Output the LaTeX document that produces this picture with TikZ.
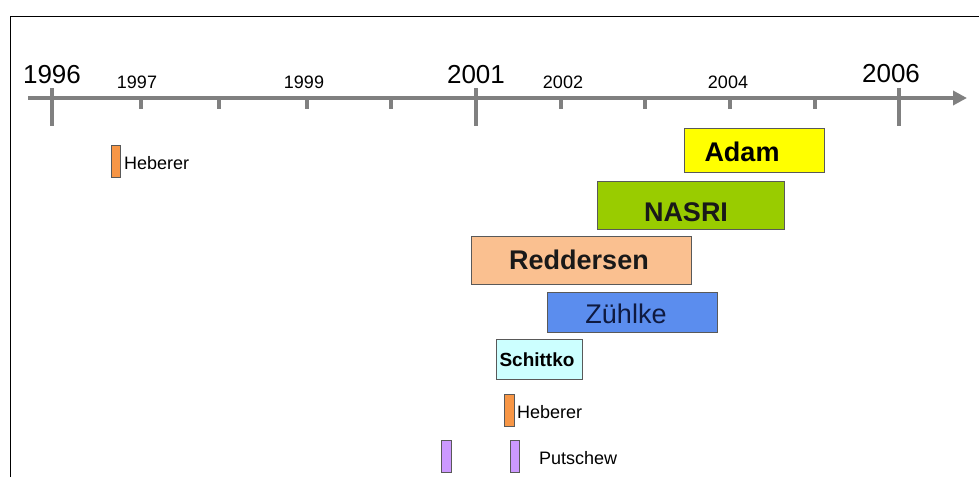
\documentclass[tikz,border=0pt]{standalone}
\usepackage{fontspec}
\setmainfont{Liberation Sans}
\usetikzlibrary{arrows.meta}
\definecolor{axisgray}{HTML}{808080}
\definecolor{cyellow}{HTML}{FFFF00}
\definecolor{cgreen}{HTML}{99CC00}
\definecolor{cpeach}{HTML}{FAC090}
\definecolor{cblue}{HTML}{5B8DEE}
\definecolor{ccyan}{HTML}{CCFFFF}
\definecolor{corange}{HTML}{F79646}
\definecolor{clav}{HTML}{CC99FF}
\definecolor{cnavy}{HTML}{0F1A40}
\begin{document}
\begin{tikzpicture}[x=1pt,y=-1pt,
  bar/.style={draw=black!65,line width=1pt,inner sep=0pt,outer sep=0pt},
  bigyear/.style={font=\fontsize{26}{26}\selectfont,anchor=base,inner sep=0pt},
  smallyear/.style={font=\fontsize{18}{18}\selectfont,anchor=base,inner sep=0pt},
  boxtext/.style={font=\fontsize{27}{27}\selectfont\bfseries,anchor=base,inner sep=0pt},
  lab/.style={font=\fontsize{18}{18}\selectfont,anchor=base west,inner sep=0pt},
  axisline/.style={draw=axisgray,line width=4pt},
]
\useasboundingbox (0,0) rectangle (979,477);
% frame (top and left)
\coordinate (fbl) at (10,477);
\coordinate (ftl) at (10,16);
\coordinate (ftr) at (979,16);
\draw[line width=1pt] (fbl) -- (ftl) -- (ftr);

% axis
\coordinate (axL) at (28,98);
\coordinate (axR) at (967,98);
\draw[axisline,-{Triangle[length=14pt,width=14pt]}] (axL) -- (axR);
\foreach \x in {52,476,899}{
  \draw[axisline] (\x,88) -- (\x,126);
}
\foreach \x in {141,219,307,391,561,645,730,815}{
  \draw[axisline] (\x,96) -- (\x,109);
}

% year labels
\node[bigyear] (y1996) at (52,83) {1996};
\node[bigyear] (y2001) at (476,83) {2001};
\node[bigyear] (y2006) at (891,82) {2006};
\node[smallyear] (y1997) at (137,88) {1997};
\node[smallyear] (y1999) at (304,88) {1999};
\node[smallyear] (y2002) at (563,88) {2002};
\node[smallyear] (y2004) at (728,88) {2004};

% boxes
\node[bar,fill=cyellow,minimum width=140pt,minimum height=44pt] (adam) at (754,150) {};
\node[boxtext] (adamt) at (742,161) {Adam};
\node[bar,fill=cgreen,minimum width=187pt,minimum height=48pt] (nasri) at (690.5,205) {};
\node[boxtext,text=black!90] (nasrit) at (686,221) {NASRI};
\node[bar,fill=cpeach,minimum width=220pt,minimum height=48pt] (redd) at (581,260) {};
\node[boxtext,text=black!90] (reddt) at (579,269) {Reddersen};
\node[bar,fill=cblue,minimum width=170pt,minimum height=40pt] (zuehl) at (632,312) {};
\node[boxtext,font=\fontsize{27}{27}\selectfont,text=cnavy] (zuehlt) at (626,323) {Zühlke};
\node[bar,fill=ccyan,minimum width=86pt,minimum height=40pt] (schit) at (539,359) {};
\node[boxtext,font=\fontsize{19}{19}\selectfont\bfseries] (schitt) at (537,366) {Schittko};

% small bars
\node[bar,fill=corange,minimum width=9pt,minimum height=32pt] (heb1) at (115.5,161) {};
\node[lab] (heb1t) at (124,169) {Heberer};
\node[bar,fill=corange,minimum width=10pt,minimum height=32pt] (heb2) at (509,410) {};
\node[lab] (heb2t) at (517,418) {Heberer};
\node[bar,fill=clav,minimum width=10pt,minimum height=32pt] (put1) at (446,456) {};
\node[bar,fill=clav,minimum width=9pt,minimum height=32pt] (put2) at (514.5,456) {};
\node[lab] (putt) at (539,464) {Putschew};
\end{tikzpicture}
\end{document}
